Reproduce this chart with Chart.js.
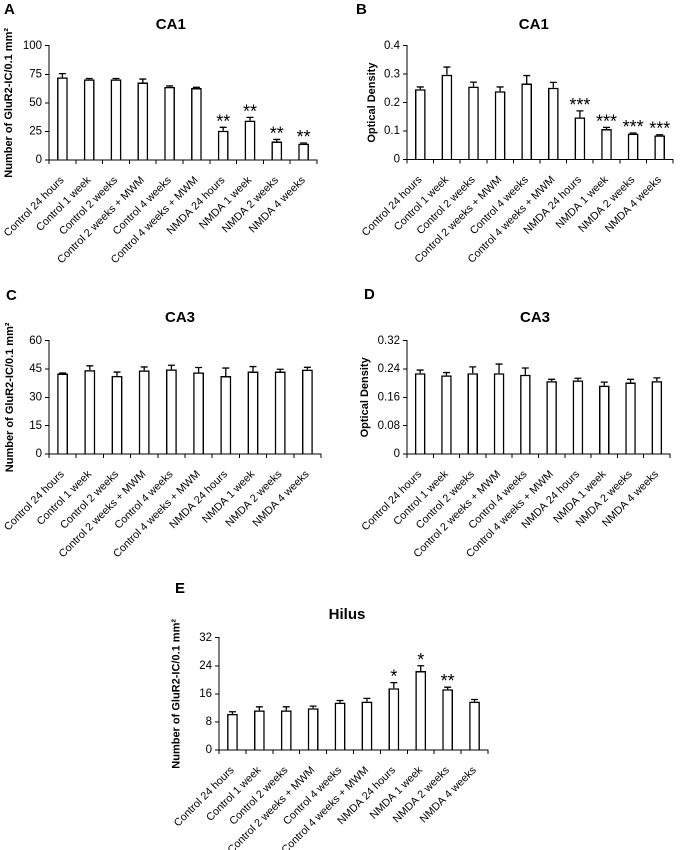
<!DOCTYPE html>
<html>
<head>
<meta charset="utf-8">
<script src="https://cdn.jsdelivr.net/npm/chart.js@4.4.1/dist/chart.umd.min.js"></script>
<style>
  body { margin: 0; background: #fff; width: 680px; height: 850px; position: relative; overflow: hidden; }
  canvas { position: absolute; }
  .letra { position: absolute; font-family: "Liberation Sans", Arial, sans-serif; font-weight: bold; font-size: 15px; line-height: 1; color: #000; }
</style>
</head>
<body>
<canvas id="panelA" width="340" height="290" style="left:0;top:0"></canvas>
<canvas id="panelB" width="340" height="290" style="left:340px;top:0"></canvas>
<canvas id="panelC" width="340" height="300" style="left:0;top:290px"></canvas>
<canvas id="panelD" width="340" height="300" style="left:340px;top:290px"></canvas>
<canvas id="panelE" width="340" height="260" style="left:170px;top:590px"></canvas>
<div class="letra" style="left:4px;top:1px">A</div>
<div class="letra" style="left:356px;top:1px">B</div>
<div class="letra" style="left:6px;top:287px">C</div>
<div class="letra" style="left:364px;top:286px">D</div>
<div class="letra" style="left:175px;top:580px">E</div>
<script>
// Grupos (eje x, iguales en todos los paneles)
const categorias = ['Control 24 hours', 'Control 1 week', 'Control 2 weeks', 'Control 2 weeks + MWM',
  'Control 4 weeks', 'Control 4 weeks + MWM', 'NMDA 24 hours', 'NMDA 1 week', 'NMDA 2 weeks', 'NMDA 4 weeks'];

// A - CA1, numero de celulas
const ca1Numero = [72.3, 70.5, 70.5, 67.8, 64.0, 63.0, 25.6, 34.4, 16.2, 14.3];
const ca1NumeroError = [3.3, 0.8, 0.8, 3.0, 0.8, 0.6, 3.0, 2.9, 1.8, 0.6];
const ca1NumeroSig = ['', '', '', '', '', '', '**', '**', '**', '**'];
const ticksA = [0, 25, 50, 75, 100];

// B - CA1, densidad optica
const ca1Densidad = [0.247, 0.298, 0.256, 0.240, 0.267, 0.252, 0.148, 0.107, 0.091, 0.085];
const ca1DensidadError = [0.008, 0.027, 0.016, 0.015, 0.028, 0.019, 0.023, 0.006, 0.002, 0.002];
const ca1DensidadSig = ['', '', '', '', '', '', '***', '***', '***', '***'];
const ticksB = [0, 0.1, 0.2, 0.3, 0.4];

// C - CA3, numero de celulas
const ca3Numero = [42.6, 44.4, 41.4, 44.3, 44.8, 43.2, 41.3, 43.7, 43.7, 44.7];
const ca3NumeroError = [0.3, 2.3, 2.0, 1.8, 2.2, 2.6, 4.2, 2.6, 1.2, 1.2];
const ca3NumeroSig = ['', '', '', '', '', '', '', '', '', ''];
const ticksC = [0, 15, 30, 45, 60];

// D - CA3, densidad optica
const ca3Densidad = [0.228, 0.222, 0.228, 0.228, 0.224, 0.206, 0.208, 0.193, 0.202, 0.206];
const ca3DensidadError = [0.009, 0.008, 0.018, 0.026, 0.019, 0.005, 0.006, 0.010, 0.009, 0.009];
const ca3DensidadSig = ['', '', '', '', '', '', '', '', '', ''];
const ticksD = [0, 0.08, 0.16, 0.24, 0.32];

// E - Hilus, numero de celulas
const hilusNumero = [10.3, 11.3, 11.3, 11.9, 13.5, 13.8, 17.6, 22.5, 17.3, 13.8];
const hilusNumeroError = [0.6, 1.0, 1.0, 0.6, 0.6, 0.9, 1.6, 1.5, 0.6, 0.6];
const hilusNumeroSig = ['', '', '', '', '', '', '*', '*', '**', ''];
const ticksE = [0, 8, 16, 24, 32];

const fuente = '"Liberation Sans", Arial, sans-serif';
Chart.defaults.font.family = fuente;
Chart.defaults.color = '#000';
Chart.defaults.animation = false;

// Plugin que dibuja barras de error, asteriscos y el titulo del panel
function pluginExtras(errores, asteriscos, titulo, tituloX, tituloY) {
    return {
        id: 'extras',
        afterDatasetsDraw(chart) {
            const ctx = chart.ctx;
            const meta = chart.getDatasetMeta(0);
            const valores = chart.data.datasets[0].data;
            const escalaY = chart.scales.y;
            ctx.save();
            ctx.strokeStyle = '#000';
            ctx.lineWidth = 1.3;
            meta.data.forEach((barra, i) => {
                const arriba = escalaY.getPixelForValue(valores[i] + errores[i]);
                ctx.beginPath();
                ctx.moveTo(barra.x, barra.y);
                ctx.lineTo(barra.x, arriba);
                ctx.moveTo(barra.x - 3.5, arriba);
                ctx.lineTo(barra.x + 3.5, arriba);
                ctx.stroke();
                if (asteriscos[i]) {
                    ctx.fillStyle = '#000';
                    ctx.font = '18px ' + fuente;
                    ctx.textAlign = 'center';
                    ctx.textBaseline = 'alphabetic';
                    ctx.fillText(asteriscos[i], barra.x, arriba);
                }
            });
            // titulo del panel (CA1, CA3, Hilus)
            ctx.fillStyle = '#000';
            ctx.font = 'bold 15px ' + fuente;
            ctx.textAlign = 'center';
            ctx.textBaseline = 'alphabetic';
            ctx.fillText(titulo, tituloX, tituloY);
            ctx.restore();
        }
    };
}

// Crea un grafico de barras con la geometria indicada
function crearPanel(id, valores, errores, asteriscos, ticksY, titulo, tituloEjeY, g) {
    const canvas = document.getElementById(id);
    const ancho = canvas.width, alto = canvas.height;
    new Chart(canvas.getContext('2d'), {
        type: 'bar',
        data: {
            labels: categorias,
            datasets: [{
                data: valores,
                backgroundColor: '#fff',
                borderColor: '#000',
                borderWidth: 1.5,
                categoryPercentage: 1,
                barPercentage: 0.4
            }]
        },
        options: {
            responsive: false,
            devicePixelRatio: 2,
            layout: { padding: { left: 0, right: ancho - g.derecha, top: g.arriba, bottom: 0 } },
            plugins: {
                legend: { display: false },
                tooltip: { enabled: false },
                title: { display: false }
            },
            scales: {
                x: {
                    grid: { offset: true, drawOnChartArea: false, tickLength: 4, color: '#000', lineWidth: 1 },
                    border: { color: '#000', width: 1 },
                    ticks: { font: { size: 10.8 }, minRotation: 45, maxRotation: 45, autoSkip: false, padding: 10 },
                    // alto fijo y sin margen extra por las etiquetas giradas
                    afterFit: s => { s.height = alto - g.abajo; s.paddingLeft = 0; s.paddingRight = 0; }
                },
                y: {
                    min: ticksY[0],
                    max: ticksY[ticksY.length - 1],
                    grid: { drawOnChartArea: false, tickLength: 4, color: '#000', lineWidth: 1 },
                    border: { color: '#000', width: 1 },
                    afterBuildTicks: s => { s.ticks = ticksY.map(v => ({ value: v })); },
                    ticks: { font: { size: 11.5 }, padding: 3, callback: v => String(v) },
                    title: {
                        display: true,
                        text: tituloEjeY,
                        font: { size: 11, weight: 'bold' },
                        padding: { top: g.padTituloY, bottom: 0 }
                    },
                    afterFit: s => { s.width = g.izquierda; }
                }
            }
        },
        plugins: [pluginExtras(errores, asteriscos, titulo, g.tituloX, g.tituloY)]
    });
}

const ejeNumero = 'Number of GluR2-IC/0.1 mm\u00B2';
const ejeDensidad = 'Optical Density';

crearPanel('panelA', ca1Numero, ca1NumeroError, ca1NumeroSig, ticksA, 'CA1', ejeNumero,
    { izquierda: 49, derecha: 317, arriba: 45.7, abajo: 160, padTituloY: 2.4, tituloX: 170.8, tituloY: 28.8 });
crearPanel('panelB', ca1Densidad, ca1DensidadError, ca1DensidadSig, ticksB, 'CA1', ejeDensidad,
    { izquierda: 67, derecha: 333, arriba: 45.7, abajo: 159.5, padTituloY: 25.4, tituloX: 193.8, tituloY: 28.8 });
crearPanel('panelC', ca3Numero, ca3NumeroError, ca3NumeroSig, ticksC, 'CA3', ejeNumero,
    { izquierda: 49, derecha: 321, arriba: 50.7, abajo: 164, padTituloY: 3.4, tituloX: 180, tituloY: 32.2 });
crearPanel('panelD', ca3Densidad, ca3DensidadError, ca3DensidadSig, ticksD, 'CA3', ejeDensidad,
    { izquierda: 67, derecha: 330, arriba: 50.7, abajo: 164, padTituloY: 18.4, tituloX: 195, tituloY: 32.2 });
crearPanel('panelE', hilusNumero, hilusNumeroError, hilusNumeroSig, ticksE, 'Hilus', ejeNumero,
    { izquierda: 49, derecha: 318, arriba: 47.7, abajo: 160, padTituloY: 0, tituloX: 177, tituloY: 28.8 });
</script>
</body>
</html>
